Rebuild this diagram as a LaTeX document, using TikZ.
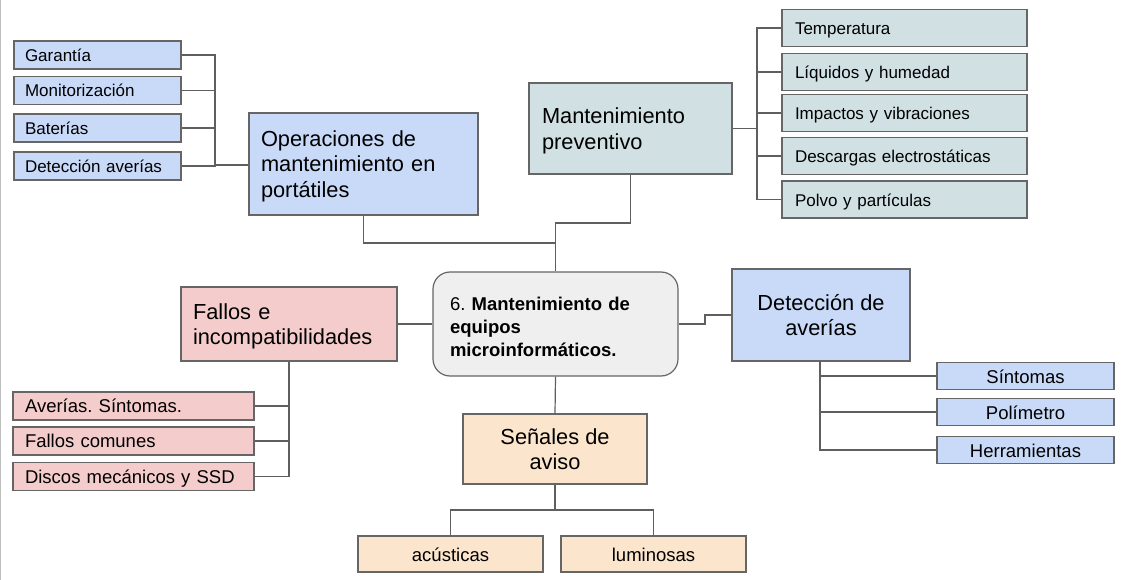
\documentclass[tikz,border=0pt]{standalone}
\usepackage{fontspec}
\setmainfont{Liberation Sans}
\usepackage{tikz}
\definecolor{cornflower}{HTML}{C9DAF8}
\definecolor{cyanish}{HTML}{D0E0E3}
\definecolor{rose}{HTML}{F4CCCC}
\definecolor{peach}{HTML}{FCE5CD}
\definecolor{hubgray}{HTML}{EFEFEF}
\definecolor{edgegray}{HTML}{666666}
\definecolor{linkgray}{HTML}{5F5F5F}
\tikzset{
	box/.style={draw=edgegray, line width=1.2pt, inner xsep=12pt, inner ysep=0pt},
	oneline/.style={text height=#1, text depth=0pt},
	oneline/.default=14pt,
	smalltext/.style={font=\fontsize{17}{20}\selectfont},
	midtext/.style={font=\fontsize{18.5}{22}\selectfont},
	bigtext/.style={font=\fontsize{21.8}{25.5}\selectfont},
	link/.style={linkgray, line width=1.2pt},
}

\begin{document}
\frenchspacing
\begin{tikzpicture}[x=1pt, y=-1pt]
\useasboundingbox (0,0) rectangle (1126,580);
\draw[black!25, line width=1.2pt] (0.6,0) -- (0.6,580);

\node[box, bigtext, fill=cornflower, text width=205pt, minimum height=102pt, text depth=51pt, align=left] (ops) at (363.5,164) {Operaciones de\\mantenimiento en\\portátiles};
\node[box, bigtext, fill=cyanish, inner xsep=13pt, text width=177pt, minimum height=91pt, text depth=25.5pt, align=left] (prev) at (630.5,128.5) {Mantenimiento\\preventivo};
\node[box, fill=hubgray, rounded corners=17pt, inner xsep=17pt, text width=211pt, minimum height=104pt, align=left, text depth=41pt, font=\fontsize{18.5}{23}\selectfont] (hub) at (555.5,324) {6. \textbf{Mantenimiento de}\\\textbf{equipos}\\\textbf{microinformáticos.}};
\node[box, bigtext, fill=rose, text width=192pt, minimum height=74pt, text depth=25.5pt, align=left] (fallos) at (289,324) {Fallos e\\incompatibilidades};
\node[box, bigtext, fill=cornflower, minimum width=178pt, minimum height=92pt, align=center] (det) at (821,315) {Detección de\\averías};
\node[box, bigtext, fill=peach, minimum width=184pt, minimum height=70pt, align=center] (sen) at (555,449) {Señales de\\aviso};

\coordinate (opsj) at (215,165);
\coordinate (prevj) at (757,128.5);
\coordinate (topj) at (555.5,243);
\coordinate (prevb) at (555.5,223);
\coordinate (hubj) at (705,324);
\coordinate (detj) at (820,361);
\coordinate (senj) at (555,510);

\foreach \name/\y/\txt in {gar/55/Garantía, mon/90.5/Monitorización, bat/128/Baterías, dav/166/Detección averías} {
	\node[box, oneline=13pt, smalltext, fill=cornflower, inner xsep=11pt, text width=145pt, minimum height=28pt, align=left] (\name) at (97.5,\y) {\mbox{\txt}};
	\draw[link] (\name.east) -| (opsj);
	};
\foreach \name/\y/\txt in {temp/28/Temperatura, liq/72/Líquidos y humedad, imp/113/Impactos y vibraciones, desc/156/Descargas electrostáticas, polvo/199.5/Polvo y partículas} {
	\node[box, oneline=14pt, smalltext, fill=cyanish, inner xsep=13pt, text width=219pt, minimum height=37pt, align=left] (\name) at (904.5,\y) {\mbox{\txt}};
	\draw[link] (\name.west) -| (prevj);
	};
\foreach \name/\y/\txt in {ave/406/Averías. Síntomas., com/441/Fallos comunes, dis/476.5/Discos mecánicos y SSD} {
	\node[box, oneline=13.5pt, midtext, fill=rose, text width=217pt, minimum height=28pt, align=left] (\name) at (133.5,\y) {\mbox{\txt}};
	\draw[link] (\name.east) -| (fallos.south);
	};
\foreach \name/\y/\txt in {sin/376/Síntomas, pol/412/Polímetro, her/450/Herramientas} {
	\node[box, oneline=15pt, midtext, fill=cornflower, minimum width=177pt, minimum height=27pt] (\name) at (1025.5,\y) {\txt};
	\draw[link] (\name.west) -| (detj);
	};
\foreach \name/\x/\txt in {acu/450.5/acústicas, lum/653.5/luminosas} {
	\node[box, oneline=15pt, midtext, fill=peach, minimum width=185pt, minimum height=36pt] (\name) at (\x,554) {\txt};
	\draw[link] (\name.north) |- (senj);
	};

\draw[link] (ops.south) |- (topj) -- (hub.north);
\draw[link] (prev.south) |- (prevb) -- (topj);
\draw[link] (opsj) -- (opsj -| ops.west);
\draw[link] (prev.east) -- (prevj);
\draw[link] (hub.west) -- (fallos.east);
\draw[link] (hub.east) -- (hubj) |- (det.west);
\draw[link] (detj) -- (det.south);
\draw[link] (hub.south) -- (sen.north);
\draw[link] (sen.south) -- (senj);
\end{tikzpicture}
\end{document}
